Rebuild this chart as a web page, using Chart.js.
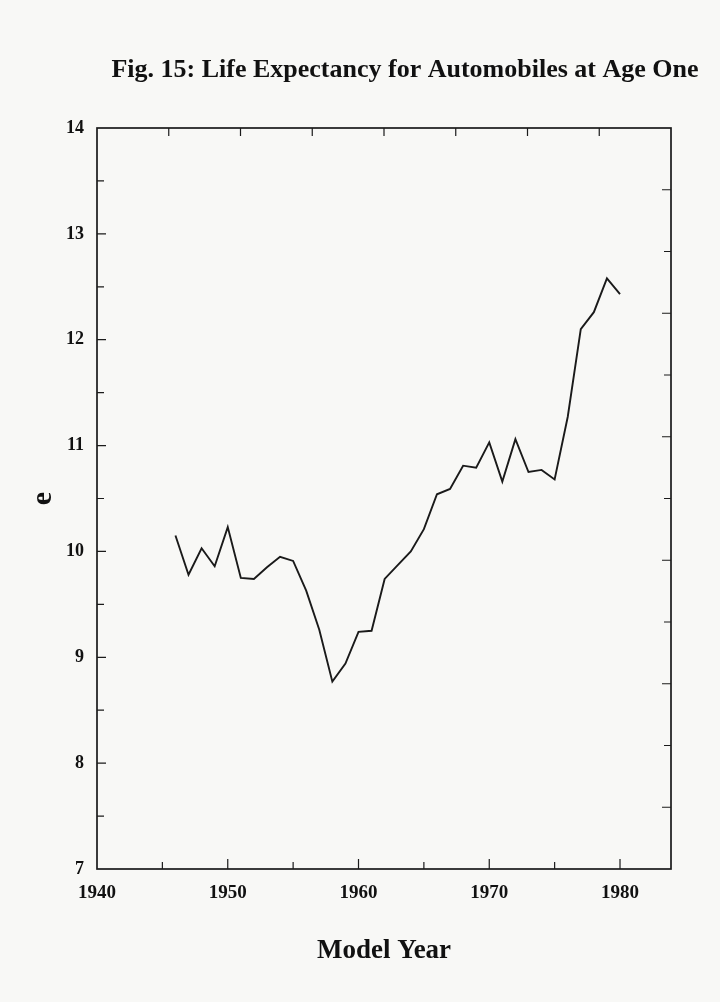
<!DOCTYPE html>
<html>
<head>
<meta charset="utf-8">
<script src="https://cdn.jsdelivr.net/npm/chart.js@4.4.1/dist/chart.umd.min.js"></script>
<style>
  html, body { margin: 0; background: #f8f8f6; }
  canvas { display: block; }
</style>
</head>
<body>
<canvas id="lifeChart" width="720" height="1002"></canvas>
<script>
// model years and life expectancy e at age one
const modelYears = [1946, 1947, 1948, 1949, 1950, 1951, 1952, 1953, 1954, 1955,
  1956, 1957, 1958, 1959, 1960, 1961, 1962, 1963, 1964, 1965, 1966, 1967,
  1968, 1969, 1970, 1971, 1972, 1973, 1974, 1975, 1976, 1977, 1978, 1979, 1980];
const lifeExp = [10.15, 9.78, 10.03, 9.86, 10.23, 9.75, 9.74, 9.85, 9.95, 9.91,
  9.63, 9.26, 8.77, 8.94, 9.24, 9.25, 9.74, 9.87, 10.00, 10.21, 10.54, 10.59,
  10.81, 10.79, 11.03, 10.66, 11.06, 10.75, 10.77, 10.68, 11.27, 12.10, 12.26, 12.58, 12.43];

const yearLabels = [1940, 1950, 1960, 1970, 1980];
const bottomMarks = [1945, 1950, 1955, 1960, 1965, 1970, 1975, 1980];
const leftMarks = [7.5, 8, 8.5, 9, 9.5, 10, 10.5, 11, 11.5, 12, 12.5, 13, 13.5];

const X_MIN = 1940, X_MAX = 1983.9;
const serif = "'Liberation Serif', 'DejaVu Serif', serif";

// frame + inward tick marks, drawn through the chart's own scales
const framePlugin = {
  id: 'frame',
  afterDatasetsDraw(chart) {
    const { ctx, chartArea: a, scales: { x, y } } = chart;
    ctx.save();
    ctx.strokeStyle = '#1b1b1b';
    ctx.lineWidth = 1.7;
    ctx.strokeRect(a.left, a.top, a.right - a.left, a.bottom - a.top);
    ctx.lineWidth = 1.2;
    ctx.beginPath();
    bottomMarks.forEach(v => {
      const px = x.getPixelForValue(v);
      const len = v % 10 === 0 ? 10 : 7;
      ctx.moveTo(px, a.bottom); ctx.lineTo(px, a.bottom - len);
    });
    // top axis has 8 even divisions
    for (let k = 1; k < 8; k++) {
      const px = x.getPixelForValue(X_MIN + k * (X_MAX - X_MIN) / 8);
      ctx.moveTo(px, a.top); ctx.lineTo(px, a.top + 8);
    }
    leftMarks.forEach(v => {
      const py = y.getPixelForValue(v);
      const len = v % 1 === 0 ? 9 : 7;
      ctx.moveTo(a.left, py); ctx.lineTo(a.left + len, py);
    });
    // right axis has 12 even divisions
    for (let k = 1; k < 12; k++) {
      const py = y.getPixelForValue(7 + k * 7 / 12);
      ctx.moveTo(a.right, py); ctx.lineTo(a.right - (k % 2 ? 9 : 7), py);
    }
    ctx.stroke();
    ctx.restore();
  },
  afterDraw(chart) {
    const ctx = chart.ctx;
    ctx.save();
    ctx.fillStyle = '#111';
    ctx.font = 'bold 26px ' + serif;
    ctx.textAlign = 'center';
    ctx.textBaseline = 'middle';
    ctx.fillText('Fig. 15: Life Expectancy for Automobiles at Age One', 405, 70);
    ctx.restore();
  }
};

new Chart(document.getElementById('lifeChart'), {
  type: 'line',
  data: {
    datasets: [{
      data: modelYears.map((yr, i) => ({ x: yr, y: lifeExp[i] })),
      borderColor: '#1a1a1a',
      borderWidth: 1.9,
      pointRadius: 0,
      tension: 0,
      fill: false
    }]
  },
  options: {
    responsive: false,
    animation: false,
    devicePixelRatio: 1,
    layout: { padding: { top: 128, right: 49, bottom: 33, left: 0 } },
    plugins: { legend: { display: false }, tooltip: { enabled: false } },
    scales: {
      x: {
        type: 'linear',
        min: X_MIN,
        max: X_MAX,
        afterBuildTicks: s => { s.ticks = yearLabels.map(v => ({ value: v })); },
        afterFit: s => { s.height = 100; },
        grid: { display: false, drawTicks: false },
        border: { display: false },
        ticks: {
          color: '#111',
          font: { family: serif, size: 19, weight: 'bold' },
          padding: 13,
          maxRotation: 0,
          autoSkip: false,
          callback: v => String(v)
        },
        title: {
          display: true,
          text: 'Model Year',
          color: '#111',
          font: { family: serif, size: 27, weight: 'bold' },
          padding: { top: 0, bottom: 2 }
        }
      },
      y: {
        min: 7,
        max: 14,
        afterFit: s => { s.width = 97; },
        grid: { display: false, drawTicks: false },
        border: { display: false },
        ticks: {
          stepSize: 1,
          color: '#111',
          font: { family: serif, size: 18, weight: 'bold' },
          padding: 13
        },
        title: {
          display: true,
          text: 'e',
          color: '#111',
          font: { family: serif, size: 30, weight: 'bold' },
          padding: { top: 25, bottom: 0 }
        }
      }
    }
  },
  plugins: [framePlugin]
});
</script>
</body>
</html>
